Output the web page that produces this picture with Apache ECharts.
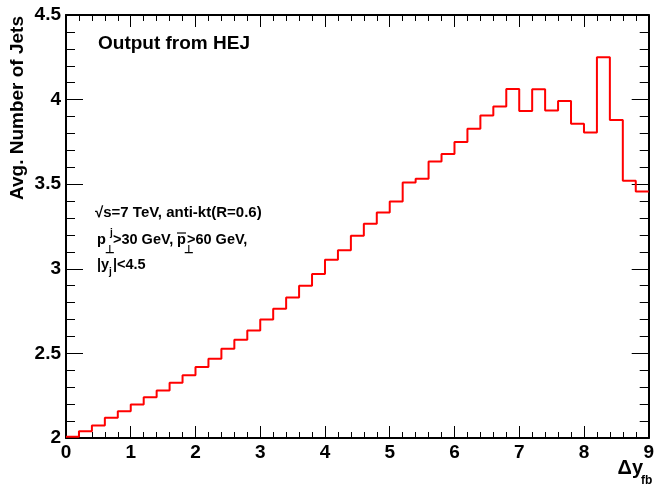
<!DOCTYPE html>
<html>
<head>
<meta charset="utf-8">
<script src="https://cdn.jsdelivr.net/npm/echarts@6/dist/echarts.min.js"></script>
<style>
html,body{margin:0;padding:0;background:#fff;}
#c{width:657px;height:485px;}
</style>
</head>
<body>
<div id="c"></div>
<script>
// Histogram: bins of width 0.2 from 0 to 9
const X_MIN = 0;
const X_MAX = 9;
const BIN_WIDTH = 0.2;
const avgJets = [
  2.007, 2.040, 2.074, 2.119, 2.158, 2.198, 2.241, 2.280, 2.326, 2.371,
  2.420, 2.469, 2.527, 2.581, 2.636, 2.700, 2.764, 2.831, 2.900, 2.969,
  3.054, 3.109, 3.195, 3.266, 3.333, 3.398, 3.510, 3.532, 3.634, 3.679,
  3.749, 3.827, 3.906, 3.959, 4.063, 3.933, 4.061, 3.935,
  3.991, 3.857, 3.805, 4.250, 3.880, 3.520, 3.457
];
const Y_MIN = 2, Y_MAX = 4.5, Y_STEP = 0.5;
const X_STEP = 1;

const title = 'Output from HEJ';
const yTitle = 'Avg. Number of Jets';

// build step data (left bin edges + closing point)
const stepData = avgJets.map((v, i) => [+(X_MIN + i * BIN_WIDTH).toFixed(4), v]);
stepData.push([X_MAX, avgJets[avgJets.length - 1]]);

const FONT = '"Liberation Sans", Arial, Helvetica, sans-serif';
const black = '#000';

function xAx(pos, showLabel) {
  return {
    type: 'value', min: X_MIN, max: X_MAX, interval: X_STEP, position: pos,
    axisLine: { show: true, onZero: false, lineStyle: { color: black, width: 2 } },
    axisTick: { show: true, inside: true, length: 12, lineStyle: { color: black, width: 1 } },
    minorTick: { show: true, splitNumber: 5, length: 6, lineStyle: { color: black, width: 1 } },
    splitLine: { show: false }, minorSplitLine: { show: false },
    axisLabel: { show: showLabel, fontFamily: FONT, fontWeight: 'bold', fontSize: 19, color: black, margin: 5, showMinLabel: true, showMaxLabel: true }
  };
}
function yAx(pos, showLabel) {
  return {
    type: 'value', min: Y_MIN, max: Y_MAX, interval: Y_STEP, position: pos,
    axisLine: { show: true, onZero: false, lineStyle: { color: black, width: 2 } },
    axisTick: { show: true, inside: true, length: 17, lineStyle: { color: black, width: 1 } },
    minorTick: { show: true, splitNumber: 5, length: 9, lineStyle: { color: black, width: 1 } },
    splitLine: { show: false }, minorSplitLine: { show: false },
    axisLabel: { show: showLabel, fontFamily: FONT, fontWeight: 'bold', fontSize: 19, color: black, margin: 5, showMinLabel: true, showMaxLabel: true }
  };
}

const txt = (x, y, text, size, extra) => ({
  type: 'text', x: x, y: y,
  style: Object.assign({ text: text, fill: black, font: 'bold ' + size + 'px ' + FONT, textVerticalAlign: 'middle' }, extra || {})
});

const chart = echarts.init(document.getElementById('c'), null, { renderer: 'canvas' });
chart.setOption({
  animation: false,
  backgroundColor: '#fff',
  grid: { left: 66, right: 4, top: 15, bottom: 47, containLabel: false },
  xAxis: [xAx('bottom', true), xAx('top', false)],
  yAxis: [yAx('left', true), yAx('right', false)],
  series: [{
    type: 'line', step: 'end', xAxisIndex: 0, yAxisIndex: 0,
    data: stepData, showSymbol: false, symbol: 'none',
    lineStyle: { color: '#ff0000', width: 2 }, clip: true
  }],
  graphic: [
    txt(98, 44, title, 19),
    { type: 'text', x: 18, y: 16, rotation: Math.PI / 2,
      style: { text: yTitle, fill: black, font: 'bold 19px ' + FONT, textAlign: 'right', textVerticalAlign: 'middle' } },
    txt(643, 468, 'Δy', 20, { textAlign: 'right' }),
    txt(641, 481, 'fb', 12),
    txt(95, 213, '√s=7 TeV, anti-kt(R=0.6)', 15),
    txt(97, 240, 'p', 14.5),
    txt(105, 250, '⊥', 11),
    txt(110, 233, 'j', 10),
    txt(113, 240, '>30 GeV,', 14.5),
    txt(177, 240, 'p', 14.5),
    { type: 'line', shape: { x1: 177, y1: 233, x2: 186, y2: 233 }, style: { stroke: black, lineWidth: 1.2 } },
    txt(184, 250, '⊥', 11),
    txt(187, 240, '>60 GeV,', 14.5),
    txt(97, 265, '|y', 14.5),
    txt(109, 272, 'j', 10),
    txt(113, 265, '|<4.5', 14.5)
  ]
});
</script>
</body>
</html>
